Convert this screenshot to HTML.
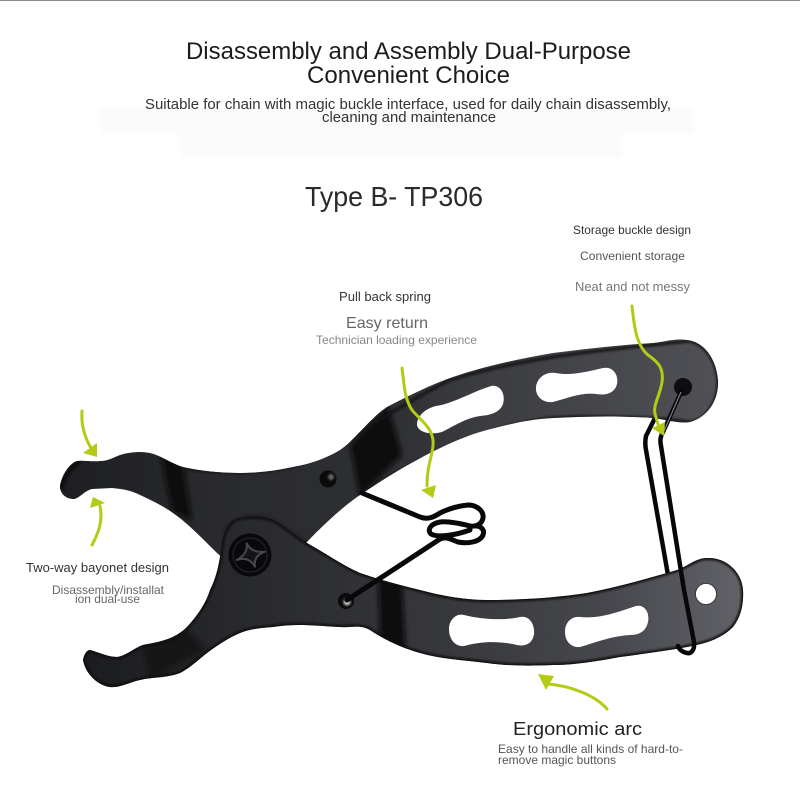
<!DOCTYPE html>
<html><head><meta charset="utf-8"><style>
html,body{margin:0;padding:0;background:#fff}
svg{display:block}
text{font-family:"Liberation Sans",sans-serif;text-anchor:start}
</style></head><body>
<svg width="800" height="800" viewBox="0 0 800 800" xmlns="http://www.w3.org/2000/svg">
<defs>
<filter id="b2" x="-30%" y="-30%" width="160%" height="160%"><feGaussianBlur stdDeviation="2.5"/></filter>
<filter id="b1" x="-30%" y="-30%" width="160%" height="160%"><feGaussianBlur stdDeviation="1"/></filter>
<linearGradient id="up" x1="60" y1="0" x2="720" y2="0" gradientUnits="userSpaceOnUse">
<stop offset="0" stop-color="#1d1e21"/><stop offset=".25" stop-color="#2a2b2e"/><stop offset=".5" stop-color="#2e2f33"/><stop offset=".62" stop-color="#3a3b3f"/><stop offset="1" stop-color="#505156"/></linearGradient>
<linearGradient id="lo" x1="80" y1="0" x2="745" y2="0" gradientUnits="userSpaceOnUse">
<stop offset="0" stop-color="#1b1c1f"/><stop offset=".3" stop-color="#2b2c30"/><stop offset=".55" stop-color="#37383c"/><stop offset=".8" stop-color="#47484d"/><stop offset="1" stop-color="#626368"/></linearGradient>
<clipPath id="cu"><path d="M77,461 C70,463 62,474 60,486 C60,494 66,499 74,499 C80,498 84,491 92,489 L112,488 C124,489 132,491 140,495 C153,501 163,506 173,513 C186,522 198,534 217,553 L260,590 L307,542 C325,523 345,505 360,495 C385,478 405,466 430,453 C450,443 468,435 487,430 C510,424 530,419 553,418 C590,416 625,416 653,418 C668,420 680,424 690,422 C708,417 719,400 718,380 C716,358 704,342 687,340 C674,338 664,342 653,343 C620,345 585,349 553,353 C518,359 485,366 453,377 C430,385 408,396 387,407 C370,418 355,440 340,450 C325,459 310,464 293,467 C275,471 258,473 240,473 C220,473 200,471 183,467 C170,463 160,455 150,453 C140,451 130,452 120,455 C112,458 108,461 100,461 C92,462 84,460 77,461 Z"/></clipPath>
<clipPath id="cl"><path d="M83,660 C84,654 87,650 90,650 C98,652 108,657 117,657 C126,656 134,648 143,645 C158,642 174,640 187,627 C198,615 206,603 210,590 C216,578 218,568 220,557 C222,545 222,535 227,528 C231,521 235,518 240,518 C252,516 263,516 273,520 C285,526 295,536 307,543 C325,553 342,565 360,573 C380,580 400,585 420,590 C442,596 465,600 487,600 C520,600 555,598 587,593 C618,587 650,578 677,570 C688,566 696,558 707,558 C726,557 742,572 743,590 C744,606 740,618 733,627 C720,640 703,644 687,647 C665,651 642,654 620,657 C598,661 575,665 553,665 C530,666 508,666 487,663 C463,660 440,659 420,653 C402,648 385,640 370,630 C360,624 350,628 340,627 C320,626 295,623 273,627 C260,628 250,629 240,633 C228,638 218,645 207,653 C198,660 190,668 180,673 C167,678 152,677 140,680 C130,682 120,688 110,687 C100,686 86,676 83,660 Z"/></clipPath>
</defs>
<rect width="800" height="800" fill="#fff"/>
<rect x="0" y="0" width="800" height="1" fill="#8a8a8a"/>
<g filter="url(#b2)" fill="#fafafa">
<rect x="100" y="108" width="594" height="26"/>
<rect x="180" y="134" width="442" height="24"/>
</g>

<!-- back wire (behind both arms) -->
<path d="M655,418 L646,436 C645,441 645,445 646,450 L668,575" fill="none" stroke="#08080a" stroke-width="4.5" stroke-linejoin="round"/>

<!-- upper arm -->
<path d="M77,461 C70,463 62,474 60,486 C60,494 66,499 74,499 C80,498 84,491 92,489 L112,488 C124,489 132,491 140,495 C153,501 163,506 173,513 C186,522 198,534 217,553 L260,590 L307,542 C325,523 345,505 360,495 C385,478 405,466 430,453 C450,443 468,435 487,430 C510,424 530,419 553,418 C590,416 625,416 653,418 C668,420 680,424 690,422 C708,417 719,400 718,380 C716,358 704,342 687,340 C674,338 664,342 653,343 C620,345 585,349 553,353 C518,359 485,366 453,377 C430,385 408,396 387,407 C370,418 355,440 340,450 C325,459 310,464 293,467 C275,471 258,473 240,473 C220,473 200,471 183,467 C170,463 160,455 150,453 C140,451 130,452 120,455 C112,458 108,461 100,461 C92,462 84,460 77,461 Z" fill="url(#up)"/>
<g clip-path="url(#cu)">
<polygon points="350,445 388,405 402,455 360,497" fill="#08090a" filter="url(#b2)"/>
<polygon points="160,452 183,465 192,520 172,512" fill="#0b0c0d" filter="url(#b2)"/>
<path d="M60,490 Q66,470 80,461" fill="none" stroke="#0c0c0e" stroke-width="5" filter="url(#b1)"/>
<path d="M112,488 L112,462" stroke="#0a0a0b" stroke-width="3" filter="url(#b1)"/>
<path d="M185,468 C220,474 270,474 300,464 C340,450 380,415 450,380 C520,358 600,350 690,341 C708,345 718,365 718,385 C716,410 700,422 690,422 C660,418 600,415 553,418 C500,424 440,445 360,495" fill="none" stroke="#121315" stroke-width="3" filter="url(#b1)"/>
<path d="M227,528 C235,514 262,512 280,524 L320,552 L360,530 L300,600 L215,600 Z" fill="#050506" opacity=".55" filter="url(#b2)"/>
</g>

<!-- lower arm -->
<path d="M83,660 C84,654 87,650 90,650 C98,652 108,657 117,657 C126,656 134,648 143,645 C158,642 174,640 187,627 C198,615 206,603 210,590 C216,578 218,568 220,557 C222,545 222,535 227,528 C231,521 235,518 240,518 C252,516 263,516 273,520 C285,526 295,536 307,543 C325,553 342,565 360,573 C380,580 400,585 420,590 C442,596 465,600 487,600 C520,600 555,598 587,593 C618,587 650,578 677,570 C688,566 696,558 707,558 C726,557 742,572 743,590 C744,606 740,618 733,627 C720,640 703,644 687,647 C665,651 642,654 620,657 C598,661 575,665 553,665 C530,666 508,666 487,663 C463,660 440,659 420,653 C402,648 385,640 370,630 C360,624 350,628 340,627 C320,626 295,623 273,627 C260,628 250,629 240,633 C228,638 218,645 207,653 C198,660 190,668 180,673 C167,678 152,677 140,680 C130,682 120,688 110,687 C100,686 86,676 83,660 Z" fill="url(#lo)"/>
<g clip-path="url(#cl)">
<polygon points="378,575 402,582 406,652 380,640" fill="#08090a" filter="url(#b2)"/>
<polygon points="143,645 186,628 205,650 150,680" fill="#141517" filter="url(#b2)"/>
<path d="M83,660 C84,654 87,650 90,650 C98,652 108,657 117,657 C126,656 134,648 143,645 C158,642 174,640 187,627 C198,615 206,603 210,590 C216,578 218,568 220,557 C222,545 222,535 227,528 C231,521 235,518 240,518 C252,516 263,516 273,520 C285,526 295,536 307,543 C325,553 342,565 360,573 C380,580 400,585 420,590 C442,596 465,600 487,600 C520,600 555,598 587,593 C618,587 650,578 677,570 C688,566 696,558 707,558 C726,557 742,572 743,590 C744,606 740,618 733,627 C720,640 703,644 687,647 C665,651 642,654 620,657 C598,661 575,665 553,665 C530,666 508,666 487,663 C463,660 440,659 420,653 C402,648 385,640 370,630 C360,624 350,628 340,627 C320,626 295,623 273,627 C260,628 250,629 240,633 C228,638 218,645 207,653 C198,660 190,668 180,673 C167,678 152,677 140,680 C130,682 120,688 110,687 C100,686 86,676 83,660 Z" fill="none" stroke="#0e0f11" stroke-width="4" filter="url(#b1)"/>
</g>

<!-- slots -->
<g fill="#fff">
<path d="M417,423 C419,413 428,408 436,406 C452,404 472,392 491,386 C500,384 506,394 503,404 C500,412 492,415 480,416 C466,418 454,426 442,432 C432,435 416,433 417,423 Z"/>
<path d="M536,390 C535,379 545,371 556,373 C570,376 586,372 603,368 C612,366 619,374 617,384 C615,392 608,396 596,394 C582,392 568,398 553,402 C544,403 537,398 536,390 Z"/>
<path d="M449,629 C449,620 456,613 464,615 C480,619 502,621 520,617 C529,615 535,624 534,634 C533,642 527,647 517,645 C500,641 482,641 464,646 C455,647 449,639 449,629 Z"/>
<path d="M565,632 C565,622 572,616 580,617 C600,619 618,612 636,606 C644,604 650,612 648,622 C646,631 640,635 630,635 C612,636 597,642 580,647 C572,648 565,642 565,632 Z"/>
<circle cx="706" cy="594" r="10.5" stroke="#2a2b2e" stroke-width=".8"/>
</g>

<!-- rivets & screw -->
<circle cx="328" cy="479" r="8.5" fill="#0a0a0b"/>
<circle cx="331" cy="477" r="3" fill="#6a6b6e" filter="url(#b1)"/>
<circle cx="250" cy="555" r="21.5" fill="#09090b"/>
<circle cx="250" cy="555" r="17" fill="none" stroke="#1e1f22" stroke-width="1.5"/>
<path d="M246.7,543.3 Q251,553 265,551.7 Q253,556 255,566.7 Q249,556 236.7,560 Q248,554 246.7,543.3 Z" fill="#131416" stroke="#47484c" stroke-width="2" stroke-linejoin="round"/>
<circle cx="346" cy="601" r="8" fill="#0a0a0b"/>
<circle cx="347" cy="602" r="3.5" fill="#c8c9ca" filter="url(#b1)"/>
<circle cx="683" cy="387" r="9" fill="#0e0e10"/>

<!-- spring and front wire -->
<g fill="none" stroke="#08080a" stroke-linecap="round" stroke-linejoin="round">
<path d="M362,493 L420,517 C428,520 434,517 440,513 C448,509 458,506 468,505 C478,505 484,512 483,518 C482,524 476,527 470,526 C462,524 448,521 440,522 C430,524 427,530 431,534 C438,538 456,535 470,530" stroke-width="5"/>
<path d="M347,600 L440,539 C447,536 452,540 458,542 C468,544 480,542 483,535 C485,530 481,526 476,526" stroke-width="5"/>
<path d="M682,390 L663,432 C660,437 660,441 661,446 L684,590 L694,642 C695,650 691,654 687,653 C682,652 679,649 678,646" stroke-width="4.5"/>
</g>
<path d="M681,392 L664,431" stroke="#8a8b8e" stroke-width="1" fill="none"/>

<!-- arrows -->
<g fill="none" stroke="#b4ca16" stroke-width="3" stroke-linecap="round">
<path d="M82,411 C81,425 85,438 91,448"/>
<path d="M92,545 C99,532 103,520 100,506"/>
<path d="M402,368 C404,382 404,398 412,410 C420,420 431,426 433,440 C434,454 427,462 427,486"/>
<path d="M632,306 C634,325 636,345 648,355 C658,362 664,368 662,382 C660,396 653,404 655,414 L658,424"/>
<path d="M607,709 C596,696 572,686 548,684"/>
</g>
<g fill="#b4ca16">
<polygon points="97,443 83,453 97,457"/>
<polygon points="93,497 105,503 90,508"/>
<polygon points="421,490 436,485 433,498"/>
<polygon points="652,428 665,422 664,436"/>
<polygon points="538,674 554,676 546,690"/>
</g>

<!-- text -->
<text x="186" y="59" font-size="24" fill="#1c1c1c" textLength="445" lengthAdjust="spacingAndGlyphs">Disassembly and Assembly Dual-Purpose</text>
<text x="307" y="83" font-size="24" fill="#1c1c1c" textLength="203" lengthAdjust="spacingAndGlyphs">Convenient Choice</text>
<text x="145" y="109" font-size="14.5" fill="#333" textLength="526" lengthAdjust="spacingAndGlyphs">Suitable for chain with magic buckle interface, used for daily chain disassembly,</text>
<text x="322" y="122" font-size="14.5" fill="#333" textLength="174" lengthAdjust="spacingAndGlyphs">cleaning and maintenance</text>
<text x="305" y="206" font-size="28" fill="#2a2a2a" textLength="178" lengthAdjust="spacingAndGlyphs">Type B- TP306</text>
<text x="573" y="234" font-size="12" fill="#333" textLength="118" lengthAdjust="spacingAndGlyphs">Storage buckle design</text>
<text x="580" y="260" font-size="12" fill="#555" textLength="105" lengthAdjust="spacingAndGlyphs">Convenient storage</text>
<text x="575" y="291" font-size="13" fill="#777" textLength="115" lengthAdjust="spacingAndGlyphs">Neat and not messy</text>
<text x="339" y="301" font-size="12.5" fill="#333" textLength="92" lengthAdjust="spacingAndGlyphs">Pull back spring</text>
<text x="346" y="328" font-size="16" fill="#666" textLength="82" lengthAdjust="spacingAndGlyphs">Easy return</text>
<text x="316" y="344" font-size="12" fill="#888" textLength="161" lengthAdjust="spacingAndGlyphs">Technician loading experience</text>
<text x="26" y="572" font-size="13" fill="#333" textLength="143" lengthAdjust="spacingAndGlyphs">Two-way bayonet design</text>
<text x="52" y="594" font-size="12" fill="#666" textLength="112" lengthAdjust="spacingAndGlyphs">Disassembly/installat</text>
<text x="75" y="603" font-size="12" fill="#666" textLength="65" lengthAdjust="spacingAndGlyphs">ion dual-use</text>
<text x="513" y="735" font-size="18" fill="#222" textLength="129" lengthAdjust="spacingAndGlyphs">Ergonomic arc</text>
<text x="498" y="753" font-size="12" fill="#555" textLength="185" lengthAdjust="spacingAndGlyphs">Easy to handle all kinds of hard-to-</text>
<text x="498" y="764" font-size="12" fill="#555" textLength="118" lengthAdjust="spacingAndGlyphs">remove magic buttons</text>
</svg>
</body></html>
